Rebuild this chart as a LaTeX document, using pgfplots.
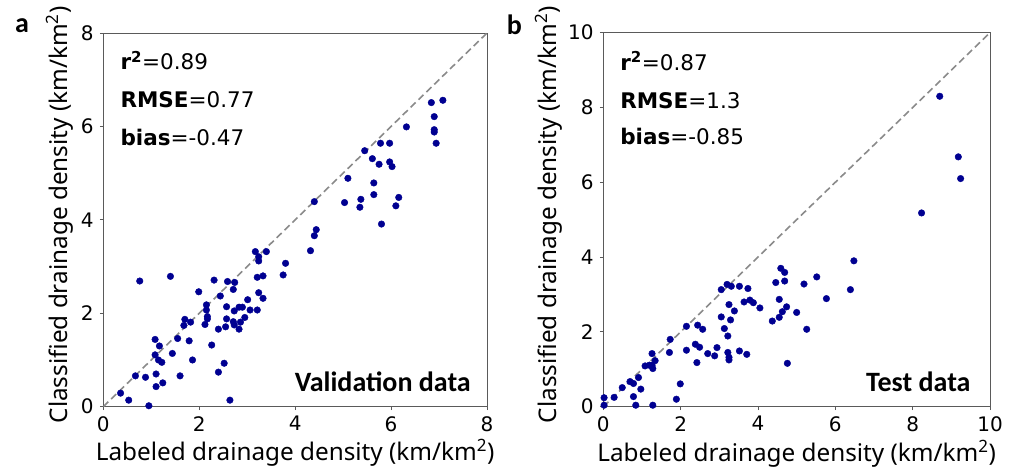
\documentclass[border=0pt]{standalone}
\usepackage{pgfplots}
\pgfplotsset{compat=1.18}
\usepackage{fontspec}
\setmainfont{DejaVu Sans}
\newfontfamily\labfont{Noto Sans}
\newfontfamily\calfont{Carlito}
\definecolor{dotblue}{RGB}{0,0,145}
\definecolor{framegray}{RGB}{90,90,90}
\definecolor{diaggray}{RGB}{138,138,138}

\tikzset{ann/.style={anchor=base west, font=\fontsize{21.5}{25}\selectfont}}
\pgfplotsset{
  myax/.style={
    scale only axis,
    axis line style={framegray, line width=0.9pt},
    tick style={framegray, line width=0.9pt},
    tick align=outside,
    major tick length=3.5pt,
    xtick pos=bottom, ytick pos=left,
    ticklabel style={font=\fontsize{20}{24}\selectfont},
    /pgf/number format/assume math mode=true,
    xticklabel style={inner sep=0pt, anchor=north, yshift=-6pt},
    yticklabel style={inner sep=0pt, anchor=east, xshift=-6pt},
    label style={font=\labfont\fontsize{24.3}{29}\selectfont},
    xlabel style={at={(axis description cs:0.5,-0.1453)}, anchor=base},
    xlabel={Labeled drainage density (km/km\textsuperscript{2})},
    ylabel={Classified drainage density (km/km\textsuperscript{2})},
  },
  dots/.style={only marks, mark=*, mark size=3.3pt, mark options={draw=dotblue, fill=dotblue}},
  diag/.style={diaggray, line width=1.6pt, dash pattern=on 7pt off 4pt},
}

\begin{document}
\begin{tikzpicture}
\useasboundingbox (0pt,0pt) rectangle (1012pt,470pt);
% panel a
\begin{axis}[myax,
  at={(103.3pt,63.3pt)}, anchor=south west,
  width=383.7pt, height=373.7pt,
  xmin=0, xmax=8, ymin=0, ymax=8,
  xtick={0,2,4,6,8}, ytick={0,2,4,6,8},
  ylabel style={at={(axis description cs:-0.0935,0.513)}, anchor=base},
]
\addplot[diag] coordinates {(0,0) (8,8)};
\addplot[dots] table {
x y
7.08 6.56
6.84 6.51
6.90 6.21
6.90 5.93
6.90 5.88
6.94 5.64
6.32 5.99
5.45 5.48
5.78 5.64
5.97 5.64
5.61 5.31
5.75 5.19
5.97 5.24
6.02 5.14
5.10 4.89
5.64 4.79
5.64 4.54
5.03 4.37
5.37 4.44
5.35 4.27
6.16 4.48
6.10 4.30
5.80 3.91
4.40 4.39
4.44 3.79
4.40 3.66
4.32 3.34
3.80 3.07
3.75 2.82
3.17 3.32
3.40 3.32
3.24 3.21
3.24 3.12
3.21 2.77
3.33 2.80
3.24 2.44
3.33 2.32
3.21 2.07
3.01 2.29
3.06 2.07
2.90 2.13
2.83 2.13
2.73 2.05
2.95 1.91
2.86 1.81
2.71 1.82
2.73 1.75
2.83 1.66
2.57 2.14
2.57 1.88
2.55 1.71
2.40 1.66
2.44 2.37
2.59 2.68
2.74 2.66
2.71 2.51
2.31 2.71
1.99 2.46
2.15 2.18
2.15 2.07
2.17 1.93
2.17 1.88
2.12 1.76
1.70 1.87
1.82 1.81
1.68 1.74
1.55 1.46
1.79 1.41
1.40 2.79
0.76 2.69
1.08 1.44
1.17 1.30
1.44 1.14
1.08 1.11
1.15 1.00
1.22 0.95
1.86 1.00
2.26 1.32
2.52 0.93
2.40 0.74
1.60 0.66
0.67 0.66
0.88 0.63
1.10 0.70
1.10 0.43
1.24 0.51
0.36 0.29
0.53 0.14
0.95 0.02
2.64 0.14
};
\node[ann] at (axis description cs:0.0357,0.901) {\textbf{r\textsuperscript{2}}=0.89};
\node[ann] at (axis description cs:0.0357,0.7993) {\textbf{RMSE}=0.77};
\node[ann] at (axis description cs:0.0357,0.699) {\textbf{bias}=-0.47};
\node[anchor=base east, inner sep=0pt, font=\calfont\bfseries\fontsize{28}{32}\selectfont] at (axis description cs:0.958,0.040) {Validation data};
\end{axis}
% panel b
\begin{axis}[myax,
  at={(603.3pt,63.3pt)}, anchor=south west,
  width=386.7pt, height=374pt,
  xmin=0, xmax=10, ymin=0, ymax=10,
  xtick={0,2,4,6,8,10}, ytick={0,2,4,6,8,10},
  ylabel style={at={(axis description cs:-0.1205,0.513)}, anchor=base},
]
\addplot[diag] coordinates {(0,0) (10,10)};
\addplot[dots] table {
x y
8.70 8.30
9.18 6.68
9.24 6.10
8.23 5.18
6.48 3.90
6.39 3.13
5.52 3.47
5.19 3.28
5.77 2.89
4.59 3.70
4.69 3.59
4.46 3.32
4.69 3.36
4.55 2.87
4.74 2.67
4.63 2.54
4.55 2.39
4.37 2.29
5.00 2.52
5.26 2.07
4.76 1.16
4.05 2.64
3.88 2.78
3.79 2.85
3.64 2.80
3.74 3.16
3.52 3.22
3.31 3.22
3.20 3.27
3.05 3.13
3.25 2.73
3.39 2.56
3.05 2.40
3.29 2.32
3.13 2.09
3.22 1.89
3.22 1.45
3.25 1.32
3.25 1.25
3.52 1.49
3.71 1.40
2.94 1.58
2.88 1.36
2.70 1.42
2.44 2.18
2.57 2.07
2.15 2.15
2.38 1.67
2.49 1.59
2.15 1.51
2.42 1.18
1.73 1.80
1.71 1.45
1.26 1.42
1.34 1.23
1.26 1.11
1.28 1.02
1.19 1.11
1.08 1.09
0.91 0.78
0.69 0.67
0.78 0.62
0.97 0.47
0.49 0.51
0.28 0.25
0.78 0.27
1.99 0.61
1.89 0.20
0.84 0.04
1.28 0.04
0.02 0.24
0.02 0.04
};
\node[ann] at (axis description cs:0.0347,0.900) {\textbf{r\textsuperscript{2}}=0.87};
\node[ann] at (axis description cs:0.0347,0.798) {\textbf{RMSE}=1.3};
\node[ann] at (axis description cs:0.0347,0.700) {\textbf{bias}=-0.85};
\node[anchor=base east, inner sep=0pt, font=\calfont\bfseries\fontsize{28}{32}\selectfont] at (axis description cs:0.950,0.040) {Test data};
\end{axis}
\node[anchor=base west, inner sep=0pt, font=\calfont\bfseries\fontsize{28}{32}\selectfont] at (15pt,437pt) {a};
\node[anchor=base west, inner sep=0pt, font=\calfont\bfseries\fontsize{28}{32}\selectfont] at (506.7pt,435pt) {b};
\end{tikzpicture}
\end{document}
